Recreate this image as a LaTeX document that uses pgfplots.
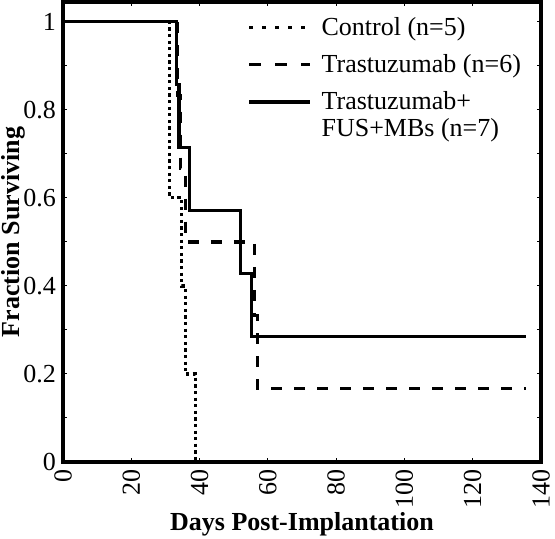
\documentclass[border=0pt]{standalone}
\usepackage{fontspec}
\setmainfont{Liberation Serif}
\usepackage{pgfplots}
\pgfplotsset{compat=1.18}
\begin{document}
\begin{tikzpicture}
\begin{axis}[
  name=ax,
  scale only axis,
  width=239pt, height=230pt,
  xmin=0, xmax=140, ymin=0, ymax=1.045,
  xtick={0,20,40,60,80,100,120,140},
  xticklabels={0,20,40,60,80,100,120,140},
  ytick={0,0.1,0.2,0.3,0.4,0.5,0.6,0.7,0.8,0.9,1},
  yticklabels={0,,0.2,,0.4,,0.6,,0.8,,1},
  tick align=inside,
  major tick length=2pt,
  tick style={line width=0.5pt, black},
  axis line style={line width=1.7pt},
  /pgf/number format/assume math mode=true,
  xticklabel style={rotate=90, anchor=east, font=\fontsize{13}{15}\selectfont},
  yticklabel style={font=\fontsize{13}{15}\selectfont},
  xlabel={Days Post-Implantation},
  ylabel={Fraction Surviving},
  label style={font=\bfseries\fontsize{13}{15}\selectfont},
  xlabel style={at={(axis description cs:0.5,-0.148)}, anchor=base},
  ylabel style={at={(axis description cs:-0.103,0.5)}, anchor=center},
  legend style={draw=none, fill=none, at={(axis description cs:0.385,0.977)}, anchor=north west,
    inner sep=0pt, row sep=4pt, font=\fontsize{13}{15}\selectfont},
  legend cell align=left,
  legend image code/.code={\draw[#1] (0pt,0pt) -- (30.5pt,0pt); \path (33.5pt,0pt);},
]
\addlegendimage{line width=1.6pt, dash pattern=on 2pt off 4.5pt}
\addlegendentry{Control (n=5)}
\addlegendimage{line width=1.6pt, dash pattern=on 6pt off 7pt}
\addlegendentry{Trastuzumab (n=6)}
\addlegendimage{line width=1.6pt}
\addlegendentry{\renewcommand{\arraystretch}{0.9}\begin{tabular}[t]{@{}l@{}}Trastuzumab+\\FUS+MBs (n=7)\end{tabular}}

\addplot[forget plot, black, line width=1.6pt, dash pattern=on 1.6pt off 1.7pt] coordinates {
  (0,1) (31.2,1) (31.2,0.6) (34.8,0.6) (34.8,0.4) (35.8,0.4) (35.8,0.2) (38.8,0.2) (38.8,0)
};
\addplot[forget plot, black, line width=1.6pt, dash pattern=on 5.5pt off 6pt] coordinates {
  (0,1) (33.5,1) (33.5,0.833) (34.3,0.833) (34.3,0.667) (35.8,0.667) (35.8,0.5) (56.2,0.5)
  (56.2,0.333) (57.0,0.333) (57.0,0.167) (135.6,0.167)
};
\addplot[forget plot, black, line width=1.6pt] coordinates {
  (0,1) (33.3,1) (33.3,0.857) (34.0,0.857) (34.0,0.714) (37.0,0.714) (37.0,0.571) (52.1,0.571)
  (52.1,0.429) (55.1,0.429) (55.1,0.286) (135.6,0.286)
};
\end{axis}
\pgfresetboundingbox
\path ([shift={(-31.5pt,-38pt)}]ax.south west) rectangle ([shift={(7pt,1pt)}]ax.north east);
\end{tikzpicture}
\end{document}
